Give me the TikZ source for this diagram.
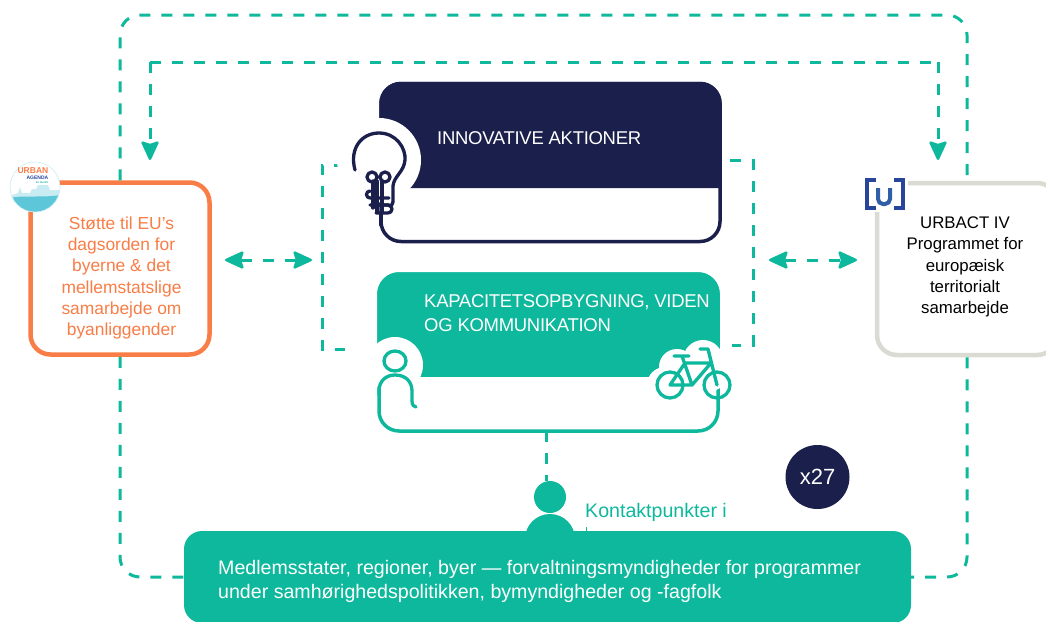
\documentclass[tikz,border=0pt]{standalone}
\usepackage{fontspec}
\setmainfont{Liberation Sans}
\usepackage{tikz}
\usetikzlibrary{positioning, arrows.meta}

\definecolor{urbteal}{HTML}{0DB89C}
\definecolor{urbnavy}{HTML}{1B1F4C}
\definecolor{urborange}{HTML}{F97D46}
\definecolor{urbgrey}{HTML}{DADBD2}
\definecolor{urbblue}{HTML}{26459B}
\definecolor{urbsky}{HTML}{5DC6D8}
\definecolor{urbpale}{HTML}{C9ECF2}

\begin{document}
\begin{tikzpicture}[
    x=1pt, y=-1pt,
    sidebox/.style={
        rectangle, rounded corners=20pt,
        draw, fill=white, line width=4.5pt,
        minimum width=179pt,
        minimum height=172pt
    },
    centrebox/.style={
        rectangle, rounded corners=20pt,
        draw, fill=white, line width=3.5pt, outer sep=0pt,
        minimum width=339pt,
        minimum height=157pt
    },
    headtext/.style={
        anchor=west, align=left, text=white, inner sep=0pt,
        font=\fontsize{18.5}{24}\selectfont\addfontfeature{LetterSpace=-1.6}
    },
    dashline/.style={
        urbteal, line width=3pt,
        dash pattern=on 11pt off 11pt
    },
    tiparrow/.style={
        dashline,
        arrows={-{Stealth[length=21pt,width=19pt,inset=3pt,round,line width=2.5pt]}}
    },
    bothtips/.style={
        dashline,
        arrows={{Stealth[length=21pt,width=19pt,inset=3pt,round,line width=2.5pt]}-{Stealth[length=21pt,width=19pt,inset=3pt,round,line width=2.5pt]}}
    },
    iconline/.style={line width=3.3pt, line cap=round, line join=round, fill=none}
]

\clip (0,0) rectangle (1046,621);

\node[sidebox, draw=urborange] (support) at (120,268.5) {};
\node[sidebox, draw=urbgrey, minimum width=180pt] (urbact) at (967,269) {};
\node[centrebox, draw=urbnavy, minimum height=158pt] (inno) at (550.5,162.5) {};
\node[centrebox, draw=urbteal] (capacity) at (548.5,352.5) {};

\node[circle, fill=urbteal, minimum size=32pt, inner sep=0pt] (head) at (550,497) {};
\node[circle, fill=urbteal, minimum size=50pt, inner sep=0pt] (body) at (550,539) {};
\node[anchor=west, text=urbteal, inner sep=0pt, font=\fontsize{19.6}{24}\selectfont] (contact) at (585,512) {Kontaktpunkter i};
\draw[urbteal, line width=1pt] (586,527) -- (586,532);
\node[rectangle, rounded corners=18pt, fill=urbteal, minimum width=727pt, minimum height=92pt] (members) at (547.5,577) {};

\coordinate (innoleft) at (345,165);
\coordinate (capleft) at (345,349);
\coordinate (innoright) at (730,160);
\coordinate (capright) at (732,345);
\coordinate (supportdrop) at (150,160);
\coordinate (urbactdrop) at (938,160);
\coordinate (leftgapa) at (225,260);
\coordinate (leftgapb) at (312,260);
\coordinate (rightgapa) at (769,260);
\coordinate (rightgapb) at (857,260);

\filldraw[urbnavy, line width=3.5pt, rounded corners=20pt] (inno.west |- 0,186.25) -- (inno.north west) -- (inno.north east) [sharp corners] -- (inno.east |- 0,186.25) -- cycle;
\filldraw[urbteal, line width=3.5pt, rounded corners=20pt] (capacity.west |- 0,375) -- (capacity.north west) -- (capacity.north east) [sharp corners] -- (capacity.east |- 0,375) -- cycle;

\draw[bothtips] (leftgapa) -- (leftgapb);
\draw[bothtips] (rightgapa) -- (rightgapb);
\draw[dashline] (innoleft) -- (322,165) -- (322,349) -- (capleft);
\draw[dashline] (innoright) -- (753,160) -- (753,345) -- (capright);
\draw[tiparrow] (150,62) -- (supportdrop);
\draw[tiparrow] (938,62) -- (urbactdrop);
\draw[dashline] (150,62) -- (938,62);
\draw[dashline, rounded corners=20pt] (support.north) -- (120,15) -- (967,15) -- (urbact.north);
\draw[dashline, rounded corners=20pt] (support.south) |- (members.west);
\draw[dashline, rounded corners=20pt] (urbact.south) |- (members.east);
\draw[dashline] ([xshift=-2pt]capacity.south) -- ([xshift=-2pt]capacity.south |- head.north);

\fill[white] (379,160) circle (42);
\fill[white] (395,365) circle (28);
\fill[white] (703,360) circle (20) (677,367) circle (18) (665,385) circle (18) (710,373) circle (18);

\draw[iconline, urbnavy] (355,170) .. controls (349,148) and (362,133) .. (379,133) .. controls (396,133) and (406,148) .. (405,160) .. controls (404,172) and (394,176) .. (393,186) -- (393,202);
\draw[iconline, urbnavy] (373,181) -- (373,208) (382,181) -- (382,212) (377,181) -- (377,212);
\draw[iconline, urbnavy] (372,177) circle (5) (385,177) circle (5);
\draw[iconline, urbnavy] (370,198) -- (389,198) (370,205) -- (389,205) (370,198) arc (90:270:3.5) (393,202) arc (0:90:4);
\draw[iconline, urbnavy] (376,205) -- (388,205) (376,213) -- (388,213) (388,205) arc (-90:90:4);
\draw[iconline, urbnavy] (381,213) -- (381,225);

\draw[iconline, urbteal] (395,361) ellipse (11 and 10);
\draw[iconline, urbteal] (379,395) -- (379,391) .. controls (379,381) and (386,375) .. (395,375) .. controls (406,375) and (412,382) .. (412,391) -- (412,401) .. controls (412,405) and (414,407) .. (416,407);

\draw[iconline, urbteal] (670,385) circle (13) (717,385) circle (13);
\draw[iconline, urbteal] (674,356) -- (689,356) (682,356) -- (692,385) -- (670,385) -- (685,363) -- (711,363) (692,385) -- (711,363) (700,349) -- (708,349) -- (717,385);

\node[align=center, text=urborange, font=\fontsize{17.4}{21.3}\selectfont] (supporttext) at (121.5,278) {Støtte til EU's\\dagsorden for\\byerne \& det\\mellemstatslige\\samarbejde om\\byanliggender};
\node[align=center, text=black, font=\fontsize{16.8}{21.2}\selectfont] (urbacttext) at (965,267) {URBACT IV\\Programmet for\\europæisk\\territorialt\\samarbejde};
\node[headtext] (innotext) at (437,138) {INNOVATIVE AKTIONER};
\node[headtext] (captext) at (424,313) {KAPACITETSOPBYGNING, VIDEN\\OG KOMMUNIKATION};

\node[anchor=west, align=left, text=white, inner sep=0pt, font=\fontsize{19.6}{24}\selectfont] (memberstext) at (218,581) {Medlemsstater, regioner, byer — forvaltningsmyndigheder for programmer\\under samhørighedspolitikken, bymyndigheder og -fagfolk};

\node[circle, fill=urbnavy, minimum size=64pt, inner sep=0pt, text=white, font=\fontsize{22}{24}\selectfont] (count) at (817.5,477) {x27};

\begin{scope}
\clip (35,187) circle (25);
\fill[white] (35,187) circle (25);
\fill[urbpale] (10,196) -- (18,193) -- (20,187) -- (22,193) -- (30,193) -- (32,189) -- (36,189) -- (38,185) -- (48,185) -- (50,190) -- (60,190) -- (60,215) -- (10,215) -- cycle;
\fill[urbsky] (10,198) .. controls (20,195) and (45,198) .. (60,195) -- (60,215) -- (10,215) -- cycle;
\end{scope}
\draw[urbpale, line width=.6pt] (35,187) circle (25);
\node[anchor=east, inner sep=0pt, text=urborange, font=\fontsize{8.5}{9}\bfseries\selectfont] (logourban) at (48.5,171) {URBAN};
\node[anchor=east, inner sep=0pt, text=urbblue, font=\fontsize{5}{6}\bfseries\selectfont] (logoagenda) at (48.5,178) {AGENDA};
\node[anchor=east, inner sep=0pt, text=urbteal, font=\fontsize{2.6}{3}\bfseries\selectfont] (logofor) at (48.5,182.5) {for the EU};

\fill[white] (862,173) rectangle (908,212);
\draw[urbblue, line width=4pt] (876,180) -- (867,180) -- (867,208) -- (876,208);
\draw[urbblue, line width=4pt] (894,180) -- (903,180) -- (903,208) -- (894,208);
\draw[urbblue!80!urbsky, line width=4pt, rounded corners=5pt] (878,188) -- (878,204) -- (890,204) -- (890,188);

\end{tikzpicture}
\end{document}
